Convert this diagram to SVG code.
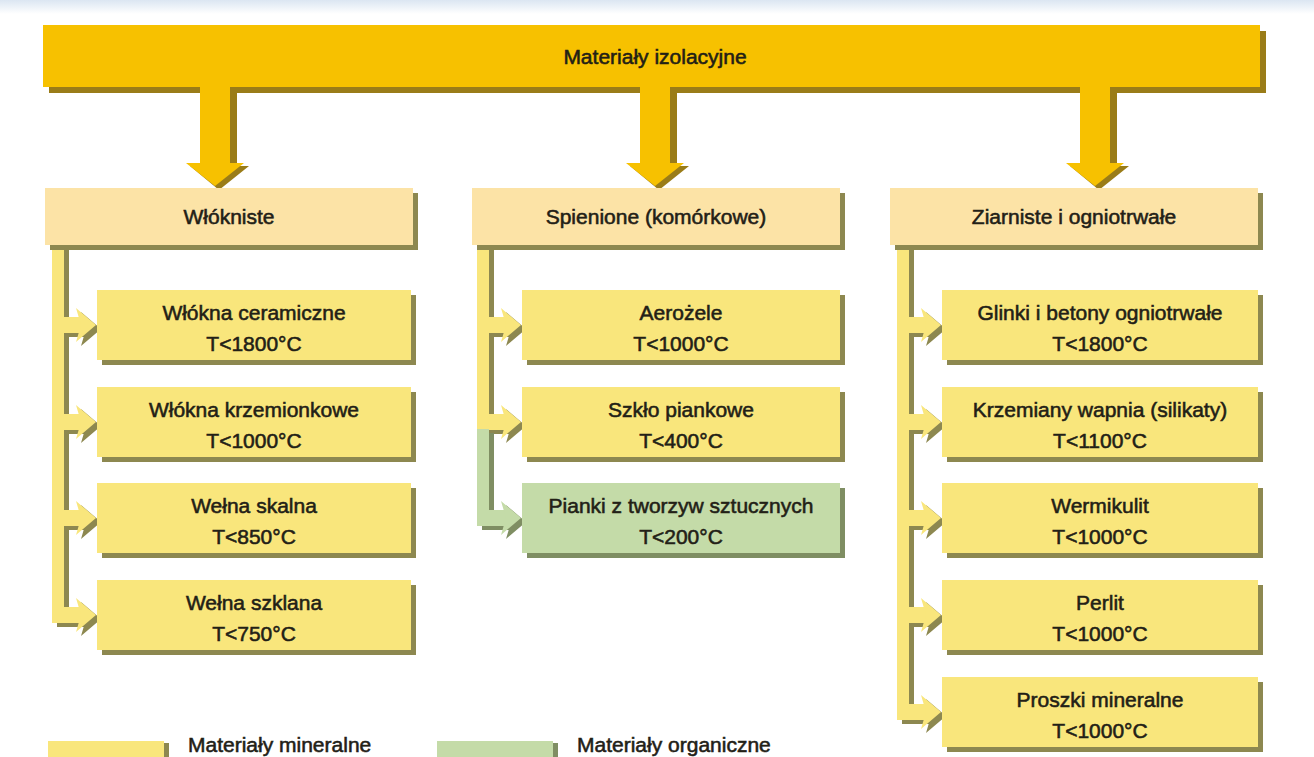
<svg xmlns="http://www.w3.org/2000/svg" width="1314" height="757" viewBox="0 0 1314 757">
<defs>
<linearGradient id="topfade" x1="0" y1="0" x2="0" y2="1">
<stop offset="0" stop-color="#dbe6f2"/>
<stop offset="1" stop-color="#ffffff"/>
</linearGradient>
</defs>
<style>
text{font-family:"Liberation Sans",Arial,sans-serif;font-size:21px;fill:#222016;stroke:#222016;stroke-width:0.55;text-anchor:middle}
.gold{fill:#f7c100}
.goldsh{fill:#9a7c18}
.cat{fill:#fce3a6}
.sub{fill:#f9e67c}
.org{fill:#c4dba8}
.sh{fill:#8d8850}
.gsh{fill:#7f8e63}
.lg{text-anchor:start}
</style>
<rect x="0" y="0" width="1314" height="757" fill="#ffffff"/>
<rect x="0" y="0" width="1314" height="14" fill="url(#topfade)"/>

<g id="root">
<rect class="goldsh" x="49" y="31" width="1217" height="62"/>
<rect class="gold" x="43" y="25" width="1217" height="62"/>
<text x="655" y="64">Materiały izolacyjne</text>
</g>

<g id="connectors">
<g id="bigarrows">
<rect class="goldsh" x="230" y="88" width="7" height="76"/>
<polygon class="goldsh" points="190,166 249,166 219,190"/>
<rect class="gold" x="200" y="86" width="30" height="80"/>
<polygon class="gold" points="186,163 244,163 215,186"/>
<rect class="goldsh" x="670" y="88" width="7" height="76"/>
<polygon class="goldsh" points="630,166 689,166 659,190"/>
<rect class="gold" x="640" y="86" width="30" height="80"/>
<polygon class="gold" points="626,163 684,163 655,186"/>
<rect class="goldsh" x="1110" y="88" width="7" height="76"/>
<polygon class="goldsh" points="1070,166 1129,166 1099,190"/>
<rect class="gold" x="1080" y="86" width="30" height="80"/>
<polygon class="gold" points="1066,163 1124,163 1095,186"/>
</g>

<g id="left-branches">
<g class="sh" transform="translate(5,4)">
<rect x="52" y="246" width="12" height="377"/>
<rect x="52" y="317" width="31" height="16"/><polygon points="76,308 96,325 76,342 81,325"/>
<rect x="52" y="414" width="31" height="16"/><polygon points="76,405 96,422 76,439 81,422"/>
<rect x="52" y="510" width="31" height="16"/><polygon points="76,501 96,518 76,535 81,518"/>
<rect x="52" y="607" width="31" height="16"/><polygon points="76,598 96,615 76,632 81,615"/>
</g>
<g class="sub">
<rect x="52" y="246" width="12" height="377"/>
<rect x="52" y="317" width="31" height="16"/><polygon points="76,308 96,325 76,342 81,325"/>
<rect x="52" y="414" width="31" height="16"/><polygon points="76,405 96,422 76,439 81,422"/>
<rect x="52" y="510" width="31" height="16"/><polygon points="76,501 96,518 76,535 81,518"/>
<rect x="52" y="607" width="31" height="16"/><polygon points="76,598 96,615 76,632 81,615"/>
</g>
</g>

<g id="middle-branches">
<g class="sh" transform="translate(5,4)">
<rect x="477" y="246" width="12" height="183"/>
<rect x="477" y="317" width="31" height="16"/><polygon points="501,308 521,325 501,342 506,325"/>
<rect x="477" y="414" width="31" height="16"/><polygon points="501,405 521,422 501,439 506,422"/>
</g>
<g class="gsh" transform="translate(5,4)">
<rect x="477" y="429" width="12" height="97"/>
<rect x="477" y="510" width="31" height="16"/><polygon points="501,501 521,518 501,535 506,518"/>
</g>
<g class="sub">
<rect x="477" y="246" width="12" height="183"/>
<rect x="477" y="317" width="31" height="16"/><polygon points="501,308 521,325 501,342 506,325"/>
<rect x="477" y="414" width="31" height="16"/><polygon points="501,405 521,422 501,439 506,422"/>
</g>
<g class="org">
<rect x="477" y="429" width="12" height="97"/>
<rect x="477" y="510" width="31" height="16"/><polygon points="501,501 521,518 501,535 506,518"/>
</g>
</g>

<g id="right-branches">
<g class="sh" transform="translate(5,4)">
<rect x="897" y="246" width="12" height="474"/>
<rect x="897" y="317" width="31" height="16"/><polygon points="921,308 941,325 921,342 926,325"/>
<rect x="897" y="414" width="31" height="16"/><polygon points="921,405 941,422 921,439 926,422"/>
<rect x="897" y="510" width="31" height="16"/><polygon points="921,501 941,518 921,535 926,518"/>
<rect x="897" y="607" width="31" height="16"/><polygon points="921,598 941,615 921,632 926,615"/>
<rect x="897" y="704" width="31" height="16"/><polygon points="921,695 941,712 921,729 926,712"/>
</g>
<g class="sub">
<rect x="897" y="246" width="12" height="474"/>
<rect x="897" y="317" width="31" height="16"/><polygon points="921,308 941,325 921,342 926,325"/>
<rect x="897" y="414" width="31" height="16"/><polygon points="921,405 941,422 921,439 926,422"/>
<rect x="897" y="510" width="31" height="16"/><polygon points="921,501 941,518 921,535 926,518"/>
<rect x="897" y="607" width="31" height="16"/><polygon points="921,598 941,615 921,632 926,615"/>
<rect x="897" y="704" width="31" height="16"/><polygon points="921,695 941,712 921,729 926,712"/>
</g>
</g>
</g>

<g id="cat-wlokniste">
<rect class="sh" x="50" y="193" width="368" height="57"/>
<rect class="cat" x="45" y="188" width="368" height="57"/>
<text x="229" y="224">Włókniste</text>
</g>
<g id="cat-spienione">
<rect class="sh" x="477" y="193" width="368" height="57"/>
<rect class="cat" x="472" y="188" width="368" height="57"/>
<text x="656" y="224">Spienione (komórkowe)</text>
</g>
<g id="cat-ziarniste">
<rect class="sh" x="895" y="193" width="368" height="57"/>
<rect class="cat" x="890" y="188" width="368" height="57"/>
<text x="1074" y="224">Ziarniste i ogniotrwałe</text>
</g>

<g id="n-wlokna-ceramiczne">
<rect class="sh" x="102" y="295" width="314" height="70"/>
<rect class="sub" x="97" y="290" width="314" height="70"/>
<text x="254" y="320">Włókna ceramiczne</text><text x="254" y="351">T&lt;1800°C</text>
</g>
<g id="n-wlokna-krzemionkowe">
<rect class="sh" x="102" y="392" width="314" height="70"/>
<rect class="sub" x="97" y="387" width="314" height="70"/>
<text x="254" y="417">Włókna krzemionkowe</text><text x="254" y="448">T&lt;1000°C</text>
</g>
<g id="n-welna-skalna">
<rect class="sh" x="102" y="488" width="314" height="70"/>
<rect class="sub" x="97" y="483" width="314" height="70"/>
<text x="254" y="513">Wełna skalna</text><text x="254" y="544">T&lt;850°C</text>
</g>
<g id="n-welna-szklana">
<rect class="sh" x="102" y="585" width="314" height="70"/>
<rect class="sub" x="97" y="580" width="314" height="70"/>
<text x="254" y="610">Wełna szklana</text><text x="254" y="641">T&lt;750°C</text>
</g>

<g id="n-aerozele">
<rect class="sh" x="527" y="295" width="318" height="70"/>
<rect class="sub" x="522" y="290" width="318" height="70"/>
<text x="681" y="320">Aerożele</text><text x="681" y="351">T&lt;1000°C</text>
</g>
<g id="n-szklo-piankowe">
<rect class="sh" x="527" y="392" width="318" height="70"/>
<rect class="sub" x="522" y="387" width="318" height="70"/>
<text x="681" y="417">Szkło piankowe</text><text x="681" y="448">T&lt;400°C</text>
</g>
<g id="n-pianki">
<rect class="gsh" x="527" y="488" width="318" height="70"/>
<rect class="org" x="522" y="483" width="318" height="70"/>
<text x="681" y="513">Pianki z tworzyw sztucznych</text><text x="681" y="544">T&lt;200°C</text>
</g>

<g id="n-glinki">
<rect class="sh" x="947" y="295" width="316" height="70"/>
<rect class="sub" x="942" y="290" width="316" height="70"/>
<text x="1100" y="320">Glinki i betony ogniotrwałe</text><text x="1100" y="351">T&lt;1800°C</text>
</g>
<g id="n-krzemiany">
<rect class="sh" x="947" y="392" width="316" height="70"/>
<rect class="sub" x="942" y="387" width="316" height="70"/>
<text x="1100" y="417">Krzemiany wapnia (silikaty)</text><text x="1100" y="448">T&lt;1100°C</text>
</g>
<g id="n-wermikulit">
<rect class="sh" x="947" y="488" width="316" height="70"/>
<rect class="sub" x="942" y="483" width="316" height="70"/>
<text x="1100" y="513">Wermikulit</text><text x="1100" y="544">T&lt;1000°C</text>
</g>
<g id="n-perlit">
<rect class="sh" x="947" y="585" width="316" height="70"/>
<rect class="sub" x="942" y="580" width="316" height="70"/>
<text x="1100" y="610">Perlit</text><text x="1100" y="641">T&lt;1000°C</text>
</g>
<g id="n-proszki">
<rect class="sh" x="947" y="682" width="316" height="70"/>
<rect class="sub" x="942" y="677" width="316" height="70"/>
<text x="1100" y="707">Proszki mineralne</text><text x="1100" y="738">T&lt;1000°C</text>
</g>

<g id="legend-mineral">
<rect class="sh" x="52" y="743" width="117" height="20"/>
<rect class="sub" x="48" y="741" width="116" height="20"/>
<text class="lg" x="188" y="752">Materiały mineralne</text>
</g>
<g id="legend-organic">
<rect class="gsh" x="441" y="743" width="117" height="20"/>
<rect class="org" x="437" y="741" width="116" height="20"/>
<text class="lg" x="577" y="752">Materiały organiczne</text>
</g>
</svg>
